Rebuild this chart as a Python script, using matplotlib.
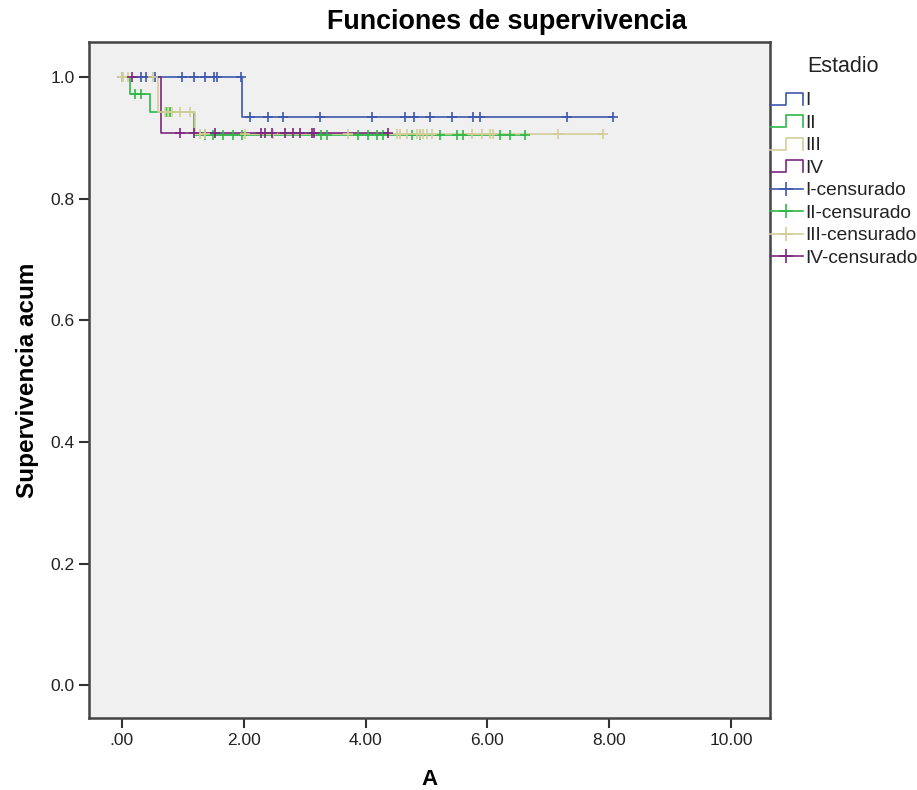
import numpy as np
import matplotlib
matplotlib.use('Agg')
import matplotlib.pyplot as plt
from matplotlib.lines import Line2D
from matplotlib.legend_handler import HandlerBase

# step curves (time where survival changes, survival level after that time)
t_I = [0.0, 1.97, 8.07]
s_I = [1.0, 0.934, 0.934]
t_II = [0.0, 0.13, 0.46, 1.18, 6.62]
s_II = [1.0, 0.973, 0.943, 0.905, 0.905]
t_III = [0.0, 0.60, 1.20, 7.90]
s_III = [1.0, 0.943, 0.907, 0.907]
t_IV = [0.0, 0.64, 4.37]
s_IV = [1.0, 0.909, 0.909]

# censored times
c_I = [0.31, 0.39, 0.54, 0.99, 1.18, 1.36, 1.51, 1.56, 1.95,
       2.10, 2.40, 2.64, 3.25, 4.10, 4.65, 4.79, 5.06, 5.42, 5.76, 5.88, 7.30, 8.06]
c_II = [0.0, 0.22, 0.32, 0.74, 0.79, 1.36, 1.49, 1.66, 1.82, 1.97, 3.27, 3.37,
        3.87, 4.04, 4.19, 4.29, 4.76, 4.89, 5.22, 5.50, 5.60, 6.21, 6.37, 6.62]
c_III = [0.0, 0.02, 0.10, 0.51, 0.71, 0.76, 0.82, 0.95, 1.12,
         1.28, 1.36, 2.02, 2.48, 3.71, 4.52, 4.57, 4.68, 4.84, 4.89, 4.94,
         5.01, 5.09, 5.75, 5.91, 6.04, 6.09, 7.16, 7.90]
c_IV = [0.16, 0.95, 1.18, 1.53, 2.29, 2.35, 2.46, 2.68, 2.81, 2.92, 3.12, 3.15, 4.37]

grupos = ['I', 'II', 'III', 'IV']
colores = ['#3e58ac', '#2eb848', '#d3ce97', '#7c287d']

curvas = [(t_I, s_I, c_I), (t_II, s_II, c_II), (t_III, s_III, c_III), (t_IV, s_IV, c_IV)]


class HandlerStep(HandlerBase):
    # little step shape like the SPSS legend
    def create_artists(self, legend, orig_handle, xdescent, ydescent,
                       width, height, fontsize, trans):
        x0 = -xdescent
        lo = -ydescent + 0.05 * height
        hi = -ydescent + 0.95 * height
        xs = [x0, x0 + 0.5 * width, x0 + 0.5 * width, x0 + width, x0 + width]
        ys = [lo, lo, hi, hi, lo]
        ln = Line2D(xs, ys, color=orig_handle.get_color(), lw=1.2)
        ln.set_transform(trans)
        return [ln]


fig = plt.figure(figsize=(9.17, 7.90), dpi=100)
ax = fig.add_axes([89 / 917, 72 / 790, (770 - 89) / 917, (718 - 42) / 790])
ax.set_facecolor('#f0f0f0')

handles_step = []
handles_cens = []
for (t, s, c), col, g in zip(curvas, colores, grupos):
    ln, = ax.step(t, s, where='post', color=col, lw=1.2)
    handles_step.append(ln)

for (t, s, c), col, g in zip(curvas, colores, grupos):
    idx = np.searchsorted(t, c, side='right') - 1
    yc = np.array(s)[idx]
    ax.plot(c, yc, ls='none', marker='+', ms=7, mew=1.2, color=col)
    handles_cens.append(Line2D([], [], color=col, lw=1.2, marker='+', ms=10, mew=1.2))

ax.set_xlim(-0.54, 10.64)
ax.set_ylim(-0.054, 1.058)
ax.set_xticks([0, 2, 4, 6, 8, 10])
ax.set_xticklabels(['.00', '2.00', '4.00', '6.00', '8.00', '10.00'])
ax.set_yticks([0.0, 0.2, 0.4, 0.6, 0.8, 1.0])
ax.set_yticklabels(['0.0', '0.2', '0.4', '0.6', '0.8', '1.0'])
for lab in ax.get_xticklabels() + ax.get_yticklabels():
    lab.set_family('Liberation Sans')
    lab.set_fontsize(12.5)
    lab.set_color('#222222')
ax.tick_params(direction='out', length=7.5, width=1.5, color='#333333')
ax.tick_params(axis='x', pad=3.5)
ax.tick_params(axis='y', pad=3)
for sp in ax.spines.values():
    sp.set_linewidth(1.8)
    sp.set_color('#444444')

ax.set_xlabel('A', fontsize=16, fontweight='bold', family='Liberation Sans', labelpad=15)
ax.set_ylabel('Supervivencia acum', fontsize=17.5, fontweight='bold', family='Liberation Sans', labelpad=8)
fig.text(507 / 917, 1 - 22 / 790, 'Funciones de supervivencia', ha='center', va='center',
         fontsize=19.4, fontweight='bold', family='Liberation Sans')

fig.text(843 / 917, 1 - 66 / 790, 'Estadio', ha='center', va='center',
         fontsize=15.5, family='Liberation Sans', color='#222222')

hmap = {h: HandlerStep() for h in handles_step}
leg = fig.legend(handles_step + handles_cens,
                 grupos + [g + '-censurado' for g in grupos],
                 handler_map=hmap, loc='upper left',
                 bbox_to_anchor=(770 / 917, 1 - 92 / 790),
                 frameon=False, borderpad=0, borderaxespad=0,
                 handlelength=1.72, handletextpad=0.1, labelspacing=0.265,
                 prop={'family': 'Liberation Sans', 'size': 13.8})
for txt in leg.get_texts():
    txt.set_color('#222222')

plt.savefig('out.png', dpi=100)
